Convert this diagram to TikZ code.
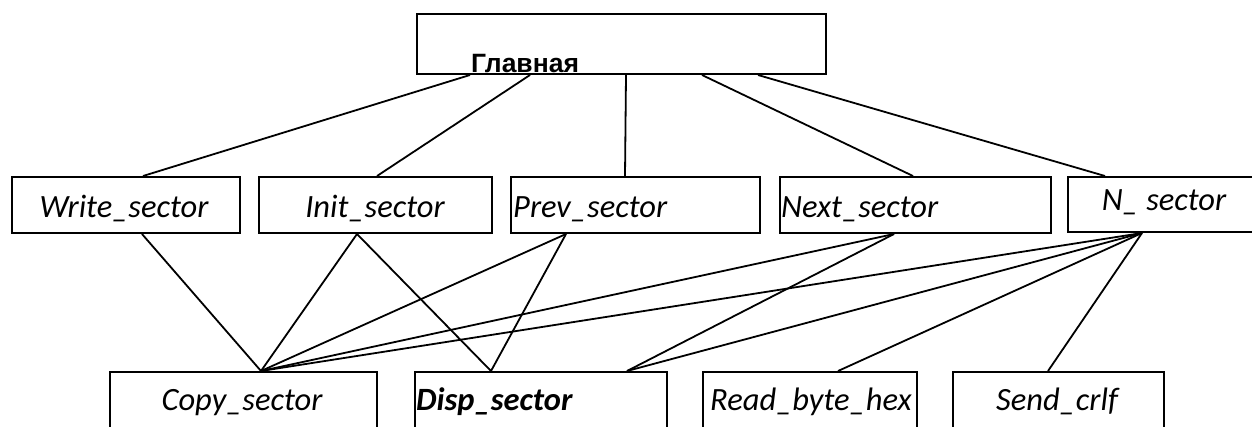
\documentclass[tikz,border=0pt]{standalone}
\usepackage{fontspec}
\setmainfont{Carlito}
\newfontfamily\headfont{Liberation Sans}
\begin{document}
\begin{tikzpicture}[x=1pt,y=-1pt,
  modbox/.style={draw=black,line width=2pt,rectangle,inner sep=0pt,anchor=north west},
  modlink/.style={draw=black,line width=1.8pt},
  modlbl/.style={inner sep=0pt,font=\fontsize{32.5}{36}\selectfont\itshape},
  modhead/.style={inner sep=0pt,font=\headfont\fontsize{26.5}{30}\selectfont\bfseries}]
\clip (0,0) rectangle (1252,426);
\fill[white] (0,0) rectangle (1252,426);

% top module
\node[modbox,minimum width=409pt,minimum height=60pt] (m) at (416,13) {};
\node[modhead,anchor=base west] (mt) at (471,72) {Главная};

% second level
\node[modbox,minimum width=228pt,minimum height=56pt] (w) at (11,176) {};
\node[modbox,minimum width=233pt,minimum height=56pt] (i) at (258,176) {};
\node[modbox,minimum width=249pt,minimum height=56pt] (p) at (510,176) {};
\node[modbox,minimum width=271pt,minimum height=56pt] (n) at (779,176) {};
\node[modbox,minimum width=200pt,minimum height=55pt] (ns) at (1067,176) {};

\node[modlbl,anchor=base] (wt) at (124,217) {Write\_sector};
\node[modlbl,anchor=base] (it) at (375,217) {Init\_sector};
\node[modlbl,anchor=base west] (pt) at (513,217) {Prev\_sector};
\node[modlbl,anchor=base west] (nt) at (781,217) {Next\_sector};
\node[modlbl,anchor=base] (nst) at (1164,210) {N\_ sector};

% third level (boxes run past the lower edge)
\node[modbox,minimum width=267pt,minimum height=80pt] (cp) at (109,371) {};
\node[modbox,minimum width=252pt,minimum height=80pt] (dp) at (414,371) {};
\node[modbox,minimum width=214pt,minimum height=80pt] (rb) at (702,371) {};
\node[modbox,minimum width=211pt,minimum height=80pt] (sc) at (952,371) {};

\node[modlbl,anchor=base] (cpt) at (242,410) {Copy\_sector};
\node[modlbl,anchor=base west,font=\fontsize{32.5}{36}\selectfont\bfseries\itshape] (dpt) at (416,410) {Disp\_sector};
\node[modlbl,anchor=base west] (rbt) at (710,410) {Read\_byte\_hex};
\node[modlbl,anchor=base] (sct) at (1057,410) {Send\_crlf};

% calls from the top module
\draw[modlink] ([xshift=54pt]m.south west) -- ([xshift=132pt]w.north west);
\draw[modlink] ([xshift=114pt]m.south west) -- ([xshift=119pt]i.north west);
\draw[modlink] ([xshift=210pt]m.south west) -- ([xshift=115pt]p.north west);
\draw[modlink] ([xshift=286pt]m.south west) -- ([xshift=134pt]n.north west);
\draw[modlink] ([xshift=342pt]m.south west) -- ([xshift=38pt]ns.north west);

% calls from the second level
\coordinate (cpin) at ([xshift=152pt]cp.north west);
\coordinate (dpa) at ([xshift=77pt]dp.north west);
\coordinate (dpb) at ([xshift=213pt]dp.north west);
\coordinate (wout) at ([xshift=131pt]w.south west);
\coordinate (iout) at ([xshift=99pt]i.south west);
\coordinate (pout) at ([xshift=56pt]p.south west);
\coordinate (nout) at ([xshift=115pt]n.south west);
\coordinate (nsout) at ([xshift=75pt]ns.south west);

\draw[modlink] (wout) -- (cpin);
\draw[modlink] (iout) -- (cpin);
\draw[modlink] (iout) -- (dpa);
\draw[modlink] (pout) -- (cpin);
\draw[modlink] (pout) -- (dpa);
\draw[modlink] (nout) -- (cpin);
\draw[modlink] (nout) -- (dpb);
\draw[modlink] (nsout) -- (cpin);
\draw[modlink] (nsout) -- (dpb);
\draw[modlink] (nsout) -- ([xshift=136pt]rb.north west);
\draw[modlink] (nsout) -- ([xshift=96pt]sc.north west);
\end{tikzpicture}
\end{document}
